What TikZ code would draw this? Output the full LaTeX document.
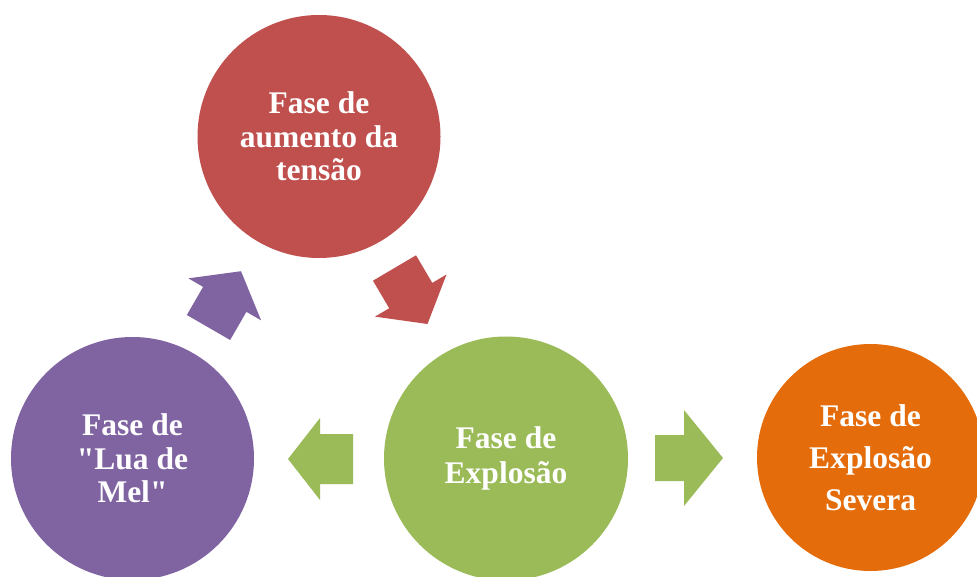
\documentclass[tikz,border=0pt]{standalone}
\usepackage{fontspec}
\setmainfont{Liberation Serif}[Ligatures=TeXOff]
\definecolor{cred}{HTML}{C0504D}
\definecolor{cpurple}{HTML}{8064A2}
\definecolor{cgreen}{HTML}{9BBB59}
\definecolor{corange}{HTML}{E46C0A}
\newcommand\blockarr[8]{\fill[#1,shift={(#2,#3)},rotate=#4] (0,-#6/2) -- (#5-#8,-#6/2) -- (#5-#8,-#7/2) -- (#5,0) -- (#5-#8,#7/2) -- (#5-#8,#6/2) -- (0,#6/2) -- cycle;}
\tikzset{
  phase/.style={circle, inner sep=0pt, text=white, align=center,
    font=\bfseries\fontsize{31.5}{33.5}\selectfont},
}
\begin{document}
\begin{tikzpicture}[x=1pt,y=1pt]
\useasboundingbox (0,0) rectangle (977,576);
\clip (0,0) rectangle (977,576);
\node[phase, fill=cred, minimum size=243pt] (tensao) at (319,439.5) {Fase de\\aumento da\\tensão};
\node[phase, fill=cpurple, minimum size=243pt] (lua) at (132.5,117.5) {Fase de\\"Lua de\\Mel"};
\node[phase, fill=cgreen, minimum size=244pt, font=\bfseries\fontsize{31.5}{35}\selectfont] (explosao) at (506,117.5) {Fase de\\Explosão};
\node[phase, fill=corange, minimum size=227pt, font=\bfseries\fontsize{31.5}{42}\selectfont] (severa) at (870.5,118.5) {Fase de\\Explosão\\Severa};
\blockarr{cred}{394.5}{308}{-59.5}{65}{50}{83}{33}
\blockarr{cpurple}{208.5}{248.5}{60}{65}{50}{84}{32.5}
\blockarr{cgreen}{353}{117}{180}{65}{50}{82}{32}
\blockarr{cgreen}{655}{118}{0}{68}{46}{96}{39}
\end{tikzpicture}
\end{document}
